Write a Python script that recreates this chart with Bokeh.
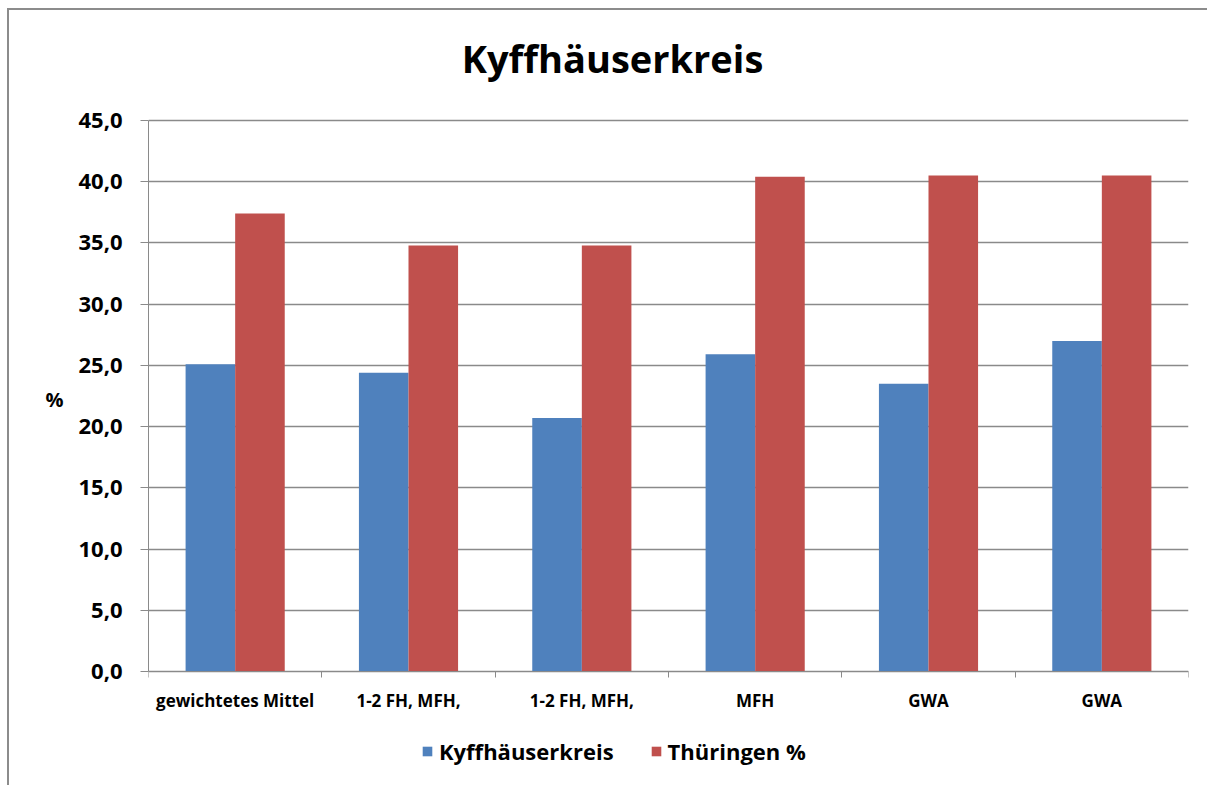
import numpy as np
from bokeh.plotting import figure
from bokeh.models import ColumnDataSource, FixedTicker, Legend, LegendItem, Label
from bokeh.transform import dodge
from bokeh.embed import file_html
from bokeh.resources import INLINE

title_text = "Kyffhäuserkreis"
categories = ["gewichtetes Mittel", "1-2 FH, MFH,", "1-2 FH, MFH,", "MFH", "GWA", "GWA"]
kyffhaeuser = [25.1, 24.4, 20.7, 25.9, 23.5, 27.0]
thueringen = [37.4, 34.8, 34.8, 40.4, 40.5, 40.5]
y_ticks = [0, 5, 10, 15, 20, 25, 30, 35, 40, 45]
y_tick_labels = ["0,0", "5,0", "10,0", "15,0", "20,0", "25,0", "30,0", "35,0", "40,0", "45,0"]
series_names = ["Kyffhäuserkreis", "Thüringen %"]
colors = ["#4F81BD", "#C0504D"]

n = len(categories)
centers = [i + 0.5 for i in range(n)]
src = ColumnDataSource(dict(x=centers, a=kyffhaeuser, b=thueringen))

FONT = "Open Sans"
GRID = "#8a8a8a"

# the frame spans the whole height so the title and legend can sit inside it;
# the value axis itself is bounded to 0..45
p = figure(width=1200, height=777, x_range=(0, n), y_range=(-9.47, 53.98),
           output_backend="svg", toolbar_location=None,
           min_border_left=139, min_border_right=21, min_border_top=0, min_border_bottom=0)
p.styles = {"border-left": "2px solid #8c8c8c", "border-top": "2px solid #8c8c8c",
            "margin-left": "7px", "margin-top": "8px"}
p.outline_line_color = None

bw = 0.286
r1 = p.vbar(x=dodge("x", -bw / 2, range=p.x_range), top="a", width=bw, source=src,
            fill_color=colors[0], line_color=None)
r2 = p.vbar(x=dodge("x", bw / 2, range=p.x_range), top="b", width=bw, source=src,
            fill_color=colors[1], line_color=None)

p.add_layout(Label(x=2.677, y=50.07, text=title_text, text_align="center",
                   text_baseline="middle", text_font=FONT, text_font_style="bold",
                   text_font_size="38px", text_color="black"))

# y axis
p.yaxis.ticker = FixedTicker(ticks=y_ticks)
p.yaxis.bounds = (0, 45)
p.yaxis.major_label_overrides = {t: l for t, l in zip(y_ticks, y_tick_labels)}
p.yaxis.major_label_text_font = FONT
p.yaxis.major_label_text_font_style = "bold"
p.yaxis.major_label_text_font_size = "22px"
p.yaxis.major_label_text_color = "black"
p.yaxis.major_tick_out = 8
p.yaxis.major_tick_in = 0
p.yaxis.minor_tick_out = 0
p.yaxis.minor_tick_in = 0
p.yaxis.major_label_standoff = 18
p.yaxis.axis_line_color = GRID
p.yaxis.major_tick_line_color = GRID
p.yaxis.axis_label = "%"
p.yaxis.axis_label_orientation = "horizontal"
p.yaxis.axis_label_text_font = FONT
p.yaxis.axis_label_text_font_style = "bold"
p.yaxis.axis_label_text_font_size = "20px"
p.yaxis.axis_label_text_color = "black"
p.yaxis.axis_label_standoff = 12

# x axis at value 0: labels at centers, tick marks at category boundaries (minor ticks)
p.xaxis.fixed_location = 0
p.xaxis.ticker = FixedTicker(ticks=centers, minor_ticks=list(range(n + 1)))
p.xaxis.major_label_overrides = {c: lab for c, lab in zip(centers, categories)}
p.xaxis.major_label_text_font = FONT
p.xaxis.major_label_text_font_style = "bold"
p.xaxis.major_label_text_font_size = "17px"
p.xaxis.major_label_text_color = "black"
p.xaxis.major_tick_out = 0
p.xaxis.major_tick_in = 0
p.xaxis.minor_tick_out = 6
p.xaxis.minor_tick_in = 0
p.xaxis.minor_tick_line_color = GRID
p.xaxis.axis_line_color = GRID
p.xaxis.major_label_standoff = 11

p.xgrid.grid_line_color = None
p.ygrid.grid_line_color = GRID
p.ygrid.grid_line_width = 1.5

legend = Legend(items=[LegendItem(label=series_names[0], renderers=[r1]),
                       LegendItem(label=series_names[1], renderers=[r2])],
                orientation="horizontal", location=(273, 21),
                label_text_font=FONT, label_text_font_style="bold",
                label_text_font_size="22px", label_text_color="black",
                glyph_width=12, glyph_height=12, label_standoff=6, spacing=36,
                border_line_color=None, background_fill_alpha=0, margin=0, padding=4)
p.add_layout(legend, "center")

open("out.html", "w").write(file_html(p, INLINE))
